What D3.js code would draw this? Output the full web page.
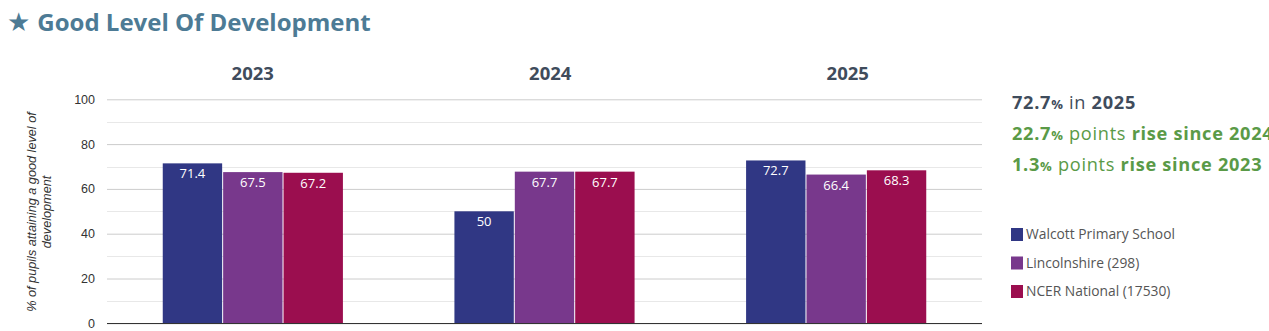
<!DOCTYPE html>
<html>
<head>
<meta charset="utf-8">
<script src="https://cdn.jsdelivr.net/npm/d3@7"></script>
<style>
  html, body { margin: 0; padding: 0; background: #fff; overflow: hidden; }
  svg { display: block; }
</style>
</head>
<body>
<svg id="chart" width="1269" height="331"></svg>
<script>
// Years shown and the three comparison series
const years = ["2023", "2024", "2025"];
const seriesNames = ["Walcott Primary School", "Lincolnshire (298)", "NCER National (17530)"];
const walcott = [71.4, 50, 72.7];
const lincolnshire = [67.5, 67.7, 66.4];
const national = [67.2, 67.7, 68.3];
const yTicks = [0, 20, 40, 60, 80, 100];
const seriesColors = ["#303784", "#78388c", "#9b0e4f"];

const seriesValues = [walcott, lincolnshire, national];

const svg = d3.select("#chart");
const plot = { left: 107, right: 982, top: 99.3, bottom: 323.3 };

// Heading
const title = svg.append("text")
  .attr("x", 7).attr("y", 31)
  .attr("font-family", "Open Sans").attr("font-weight", "bold")
  .attr("font-size", 24).attr("fill", "#4d7b95");
title.append("tspan").text("★").attr("font-family", "DejaVu Sans").attr("font-size", 26);
title.append("tspan").attr("dx", 7).text("Good Level Of Development");

// Scales
const x0 = d3.scaleBand().domain(years).range([plot.left, plot.right]).padding(0);
const x1 = d3.scaleBand().domain(d3.range(seriesNames.length))
  .range([0, x0.bandwidth()]).paddingInner(0).paddingOuter(0.915);
const y = d3.scaleLinear().domain([0, 100]).range([plot.bottom, plot.top]);
const headerX = d3.scaleBand().domain(years).range([104, 996.5]);

// Year headings above each group
svg.append("g").selectAll("text").data(years).join("text")
  .attr("x", d => headerX(d) + headerX.bandwidth() / 2)
  .attr("y", 80)
  .attr("text-anchor", "middle")
  .attr("font-family", "Open Sans").attr("font-weight", "bold")
  .attr("font-size", 18.5).attr("fill", "#3f4c5c")
  .text(d => d);

// Gridlines: minor every 10, major every 20
const minor = d3.range(10, 100, 20);
svg.append("g").selectAll("line").data(minor).join("line")
  .attr("x1", plot.left).attr("x2", plot.right)
  .attr("y1", d => Math.round(y(d)) + 0.5).attr("y2", d => Math.round(y(d)) + 0.5)
  .attr("stroke", "#e8e8e8").attr("stroke-width", 1);

const yAxis = d3.axisLeft(y).tickValues(yTicks).tickSize(-(plot.right - plot.left)).tickPadding(12);
const gy = svg.append("g").attr("transform", `translate(${plot.left},0)`).call(yAxis);
gy.select(".domain").remove();
gy.selectAll(".tick line").attr("stroke", "#cccccc");
gy.selectAll(".tick text")
  .attr("font-family", "Liberation Sans, Arial, sans-serif")
  .attr("font-size", 12.5).attr("fill", "#333");

// Y axis title
const yTitle = svg.append("text")
  .attr("transform", "translate(36,212) rotate(-90)")
  .attr("text-anchor", "middle")
  .attr("font-family", "Liberation Sans, Arial, sans-serif")
  .attr("font-style", "italic").attr("font-size", 12.7).attr("fill", "#333");
yTitle.append("tspan").attr("x", 0).attr("dy", 0).text("% of pupils attaining a good level of");
yTitle.append("tspan").attr("x", 0).attr("dy", 15).text("development");

// Bars
const rows = years.map((yr, i) => ({ year: yr, vals: seriesValues.map((s, k) => ({ k, v: s[i] })) }));
const groups = svg.append("g").selectAll("g").data(rows).join("g")
  .attr("transform", d => `translate(${x0(d.year)},0)`);

groups.selectAll("rect").data(d => d.vals).join("rect")
  .attr("x", d => x1(d.k) + 0.5)
  .attr("y", d => y(d.v))
  .attr("width", x1.bandwidth() - 1)
  .attr("height", d => y(0) - y(d.v))
  .attr("fill", d => seriesColors[d.k]);

groups.selectAll("text").data(d => d.vals).join("text")
  .attr("x", d => x1(d.k) + x1.bandwidth() / 2)
  .attr("y", d => y(d.v) + 15)
  .attr("text-anchor", "middle")
  .attr("font-family", "Open Sans").attr("font-size", 13)
  .attr("fill", "#fff")
  .text(d => d.v);

// Baseline
svg.append("line")
  .attr("x1", plot.left).attr("x2", plot.right)
  .attr("y1", Math.round(y(0)) + 0.5).attr("y2", Math.round(y(0)) + 0.5)
  .attr("stroke", "#333").attr("stroke-width", 1);

// Summary figures
const latest = walcott[2];
const riseSince24 = +(latest - walcott[1]).toFixed(1);
const riseSince23 = +(latest - walcott[0]).toFixed(1);
const summary = [
  { color: "#3f4c5c", parts: [[latest, "b"], ["%", "pct"], [" in ", "r"], [years[2], "b"]] },
  { color: "#5a9a47", parts: [[riseSince24, "b"], ["%", "pct"], [" points ", "r"], ["rise since " + years[1], "b"]] },
  { color: "#5a9a47", parts: [[riseSince23, "b"], ["%", "pct"], [" points ", "r"], ["rise since " + years[0], "b"]] }
];
svg.append("g").selectAll("text").data(summary).join("text")
  .attr("x", 1012).attr("y", (d, i) => 109 + i * 31)
  .attr("font-family", "Open Sans").attr("font-size", 18.2)
  .attr("letter-spacing", 0.7)
  .attr("fill", d => d.color)
  .each(function (d) {
    d3.select(this).selectAll("tspan").data(d.parts).join("tspan")
      .attr("font-weight", p => p[1] === "r" ? "normal" : "bold")
      .attr("font-size", p => p[1] === "pct" ? 13 : 18.2)
      .style("white-space", "pre")
      .text(p => p[0]);
  });

// Legend
const legend = svg.append("g").selectAll("g").data(seriesNames).join("g")
  .attr("transform", (d, i) => `translate(1011,${228 + i * 28.5})`);
legend.append("rect").attr("width", 12).attr("height", 13)
  .attr("fill", (d, i) => seriesColors[i]);
legend.append("text").attr("x", 15).attr("y", 11)
  .attr("font-family", "Open Sans").attr("font-size", 13.8).attr("fill", "#555")
  .text(d => d);
</script>
</body>
</html>
